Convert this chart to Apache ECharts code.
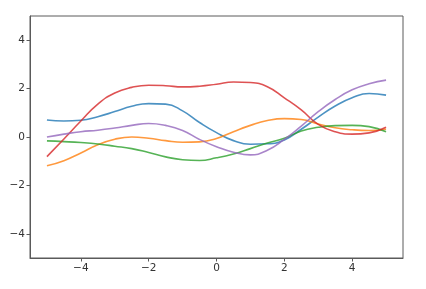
<!DOCTYPE html>
<html>
<head>
<meta charset="utf-8">
<script src="https://cdn.jsdelivr.net/npm/echarts@6/dist/echarts.min.js"></script>
<style>html,body{margin:0;padding:0;background:#fff;}#c{width:426px;height:289px;}</style>
</head>
<body>
<div id="c"></div>
<script>
const xs = [-5,-4.5,-4,-3.5,-3,-2.5,-2,-1.5,-1,-0.5,0,0.5,1,1.5,2,2.5,3,3.5,4,4.5,5];
const blue   = [0.70,0.66,0.69,0.84,1.05,1.27,1.38,1.36,1.08,0.60,0.18,-0.15,-0.30,-0.28,-0.12,0.32,0.82,1.28,1.62,1.80,1.73];
const orange = [-1.19,-0.98,-0.66,-0.32,-0.09,0.00,-0.05,-0.15,-0.22,-0.20,-0.06,0.22,0.48,0.68,0.76,0.72,0.54,0.38,0.30,0.27,0.32];
const green  = [-0.16,-0.19,-0.23,-0.29,-0.38,-0.48,-0.64,-0.82,-0.94,-0.97,-0.86,-0.70,-0.48,-0.25,-0.05,0.25,0.40,0.47,0.48,0.43,0.22];
const red    = [-0.81,-0.08,0.66,1.36,1.82,2.05,2.14,2.12,2.07,2.10,2.18,2.27,2.25,2.08,1.62,1.12,0.52,0.22,0.12,0.17,0.40];
const purple = [0.00,0.12,0.22,0.28,0.37,0.48,0.56,0.48,0.27,-0.10,-0.40,-0.63,-0.74,-0.55,-0.10,0.45,1.05,1.55,1.95,2.20,2.35];
const tickVals = [-4,-2,0,2,4];
const seriesList = [
  {name:'s0', data: blue, color:'#1f77b4'},
  {name:'s1', data: orange, color:'#ff7f0e'},
  {name:'s2', data: green, color:'#2ca02c'},
  {name:'s3', data: red, color:'#d62728'},
  {name:'s4', data: purple, color:'#9467bd'}
];
const fmt = v => String(v).replace('-', '\u2212');
const axisCommon = {
  type:'value',
  splitLine:{show:false},
  axisLine:{show:true, onZero:false, lineStyle:{color:'#5a5a5a', width:1}},
  axisTick:{show:true, length:3.5, inside:false, customValues: tickVals, lineStyle:{color:'#5a5a5a'}},
  axisLabel:{customValues: tickVals, formatter: fmt, color:'#333', fontSize:10.5, fontFamily:'DejaVu Sans', margin:5}
};
const chart = echarts.init(document.getElementById('c'), null, {renderer:'canvas'});
chart.setOption({
  animation:false,
  backgroundColor:'#fff',
  grid:{left:30, top:16, right:23, bottom:31, show:true, borderColor:'#5a5a5a', borderWidth:1, backgroundColor:'transparent'},
  xAxis: Object.assign({}, axisCommon, {min:-5.5, max:5.5}),
  yAxis: Object.assign({}, axisCommon, {min:-5, max:5}),
  series: seriesList.map(s => ({
    type:'line', name:s.name, smooth:0.5, symbol:'none',
    data: xs.map((x,i)=>[x, s.data[i]]),
    lineStyle:{color:s.color, width:1.6, opacity:0.8}
  }))
});
</script>
</body>
</html>
